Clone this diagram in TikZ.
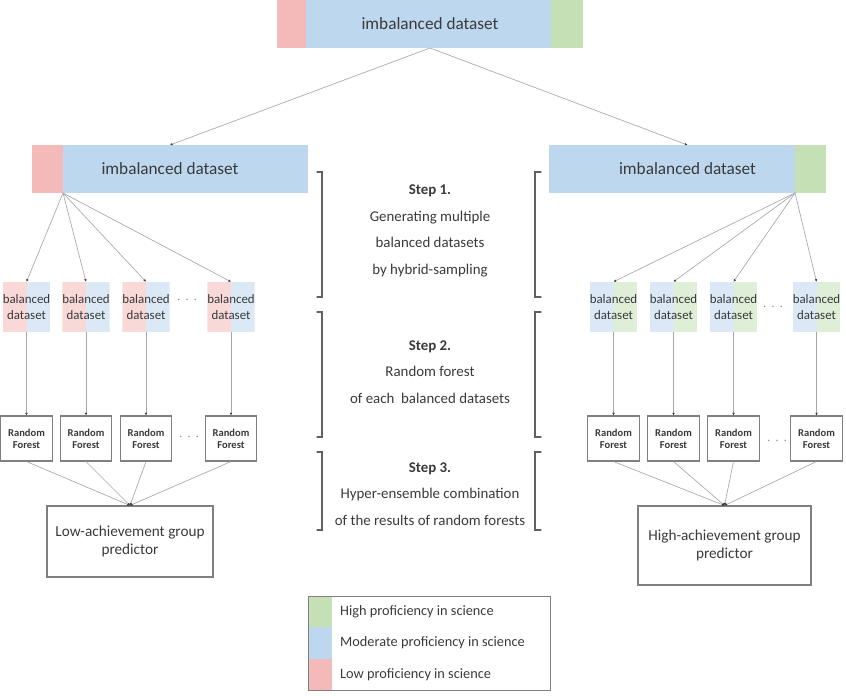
\documentclass[tikz,border=0pt]{standalone}
\usepackage{fontspec}
\setmainfont{Carlito}
\usetikzlibrary{arrows.meta,calc,positioning}
\definecolor{lowc}{HTML}{F4B9B9}
\definecolor{midc}{HTML}{BDD7EE}
\definecolor{highc}{HTML}{C5E0B4}
\definecolor{ink}{HTML}{3A3A3A}
\definecolor{edge}{HTML}{808080}
\definecolor{wirec}{HTML}{A6A6A6}
\tikzset{
  bar/.style   = {fill=midc, minimum height=1.44cm, inner sep=0pt, outer sep=0pt,
                  text=ink, font=\fontsize{14.7}{17}\selectfont},
  seg/.style   = {fill=#1, minimum height=1.44cm, inner sep=0pt, outer sep=0pt},
  bal/.style 2 args = {fill=white, minimum width=1.41cm, minimum height=1.5cm, inner sep=0pt,
                  align=center, text=ink, font=\fontsize{11}{13}\selectfont,
                  path picture={
                    \fill[#1] (path picture bounding box.south west)
                      rectangle (path picture bounding box.north);
                    \fill[#2] (path picture bounding box.north)
                      rectangle (path picture bounding box.south east);}},
  forest/.style = {draw=edge, line width=0.9pt, fill=white, minimum width=1.55cm,
                  minimum height=1.35cm, inner sep=1pt, align=center, text=ink,
                  font=\bfseries\fontsize{9}{10.5}\selectfont},
  pred/.style  = {draw=edge, line width=0.9pt, align=center, text=ink,
                  font=\fontsize{13}{16}\selectfont},
  more/.style  = {text=edge, font=\fontsize{10}{10}\selectfont},
  stepnote/.style = {align=center, text=ink, font=\fontsize{12.7}{22.6}\selectfont},
  key/.style   = {fill=#1, minimum width=0.72cm, minimum height=0.94cm, inner sep=0pt,
                  outer sep=0pt},
  keytext/.style = {text=ink, font=\fontsize{12.2}{14}\selectfont, inner sep=0pt},
  link/.style  = {line width=0.55pt, draw=wirec},
  tip/.style   = {link, -{Latex[length=2.2pt,width=2.2pt,color=ink]}},
  brk/.style   = {line width=0.9pt, draw=ink!80, line cap=round},
}
\begin{document}
\begin{tikzpicture}[x=0.03cm,y=-0.03cm]
  \useasboundingbox (0,0) rectangle (846,695);
  % dataset bars
  \node[bar, minimum width=9.18cm] (top) at (430,24) {imbalanced dataset};
  \node[seg=lowc, minimum width=0.87cm, anchor=west] (topL) at (top.west) {};
  \node[seg=highc, minimum width=0.96cm, anchor=east] (topR) at (top.east) {};
  \node[bar, minimum width=8.28cm] (lbar) at (170,169) {imbalanced dataset};
  \node[seg=lowc, minimum width=0.93cm, anchor=west] (lbarL) at (lbar.west) {};
  \node[bar, minimum width=8.31cm] (rbar) at (687.5,169) {imbalanced dataset};
  \node[seg=highc, minimum width=0.93cm, anchor=east] (rbarR) at (rbar.east) {};
  \draw[tip] (top.south) -- (lbar.north);
  \draw[tip] (top.south) -- (rbar.north);
  \coordinate (lfan) at (lbarL.south east);
  \coordinate (rfan) at (rbarR.south west);

  % low-achievement side
  \foreach \i/\x in {1/26.5, 2/86, 3/146, 4/231}{
    \node[bal={lowc!55!white}{midc!55!white}] (lb\i) at (\x,307) {balanced\\dataset};
    \node[forest] (lf\i) at (\x,438.5) {Random\\Forest};
    \draw[tip] (lfan) -- (lb\i.north);
    \draw[tip] (lb\i.south) -- (lf\i.north);
  }
  \node[more] (lbdots) at (187,300) {.\ \ .\ \ .};
  \node[more] (lfdots) at (189,437) {.\ \ .\ \ .};
  \node[pred, minimum width=4.98cm, minimum height=2.13cm] (lpred) at (130,541.5)
      {Low-achievement group\\predictor};
  \foreach \i in {1,...,4}
    \draw[tip] (lf\i.south) -- (lpred.north);

  % high-achievement side
  \foreach \i/\x in {1/613.5, 2/673.5, 3/733.5, 4/816.5}{
    \node[bal={midc!55!white}{highc!55!white}] (rb\i) at (\x,307) {balanced\\dataset};
    \node[forest] (rf\i) at (\x,438.5) {Random\\Forest};
    \draw[tip] (rfan) -- (rb\i.north);
    \draw[tip] (rb\i.south) -- (rf\i.north);
  }
  \node[more] (rbdots) at (773,307) {.\ \ .\ \ .};
  \node[more] (rfdots) at (777,441) {.\ \ .\ \ .};
  \node[pred, minimum width=5.19cm, minimum height=2.37cm] (rpred) at (724.5,545.5)
      {High-achievement group\\predictor};
  \foreach \i in {1,...,4}
    \draw[tip] (rf\i.south) -- (rpred.north);

  % steps
  \foreach \ya/\yb in {172/297, 312/437, 452/530}{
    \draw[brk] (317,\ya) -| (322,\yb) -- (317,\yb);
    \draw[brk] (541,\ya) -| (535,\yb) -- (541,\yb);
  }
  \node[stepnote] (step1) at (430,231) {\textbf{Step 1.}\\Generating multiple\\balanced datasets\\by hybrid-sampling};
  \node[stepnote] (step2) at (430,372) {\textbf{Step 2.}\\Random forest\\of each\ \ balanced datasets};
  \node[stepnote] (step3) at (430,494) {\textbf{Step 3.}\\Hyper-ensemble combination\\of the results of random forests};

  % legend
  \node[key=highc, anchor=north west] (khigh) at (308,596) {};
  \node[key=midc, below=0pt of khigh] (kmid) {};
  \node[key=lowc, below=0pt of kmid] (klow) {};
  \node[keytext, right=0.24cm of khigh] (thigh) {High proficiency in science};
  \node[keytext, right=0.24cm of kmid] (tmid) {Moderate proficiency in science};
  \node[keytext, right=0.24cm of klow] (tlow) {Low proficiency in science};
  \node[draw=edge, line width=0.8pt, minimum width=7.26cm, minimum height=2.82cm,
        inner sep=0pt] (legend) at (429,643) {};
\end{tikzpicture}
\end{document}
